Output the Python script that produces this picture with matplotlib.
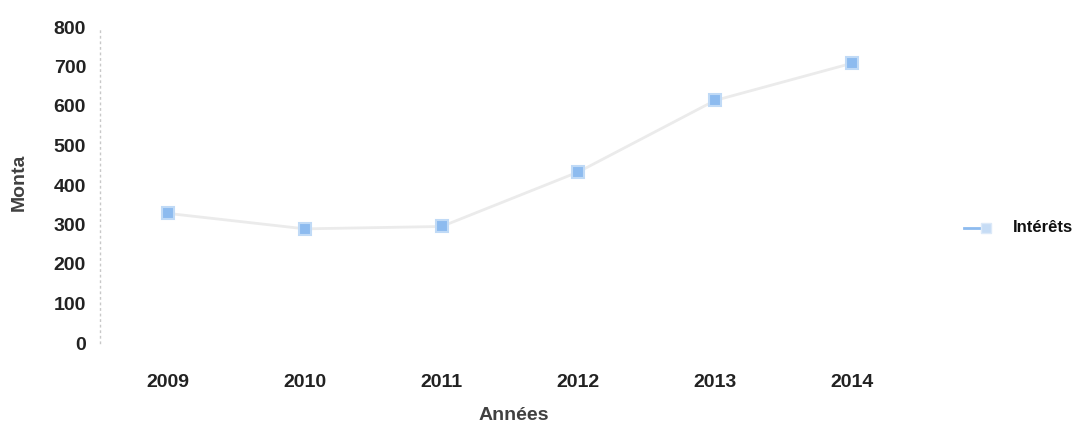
import matplotlib
matplotlib.use("Agg")
import matplotlib.pyplot as plt
from matplotlib.lines import Line2D

# Data
years = ["2009", "2010", "2011", "2012", "2013", "2014"]
interets = [328, 289, 295, 433, 614, 708]
y_ticks = [0, 100, 200, 300, 400, 500, 600, 700, 800]
series_name = "Intérêts"

plt.rcParams["font.family"] = ["Liberation Sans", "DejaVu Sans"]

fig = plt.figure(figsize=(10.8, 4.25), dpi=100)
ax = fig.add_axes([100 / 1080, (425 - 343) / 425, 820 / 1080, 316 / 425])

x = list(range(len(years)))
ax.plot(x, interets, color="#ebebeb", linewidth=2, zorder=1)
ax.plot(x, interets, linestyle="none", marker="s", markersize=8,
        markerfacecolor="#8dbbef", markeredgecolor="#c0daf6",
        markeredgewidth=1.5, zorder=2)

ax.set_xlim(-0.5, 5.5)
ax.set_ylim(0, 800)
ax.set_yticks(y_ticks)
ax.set_yticklabels([str(v) for v in y_ticks], fontsize=14, fontweight="bold",
                   color="#222222")
ax.set_xticks(x)
ax.set_xticklabels(years, fontsize=14, fontweight="bold", color="#222222")
ax.tick_params(axis="both", length=0)
ax.tick_params(axis="x", pad=22)
ax.tick_params(axis="y", pad=10)

for side in ["top", "right", "bottom"]:
    ax.spines[side].set_visible(False)
ax.spines["left"].set_color("#c8c8c8")
ax.spines["left"].set_linestyle((0, (1, 3)))
ax.spines["left"].set_linewidth(1)

fig.text(514 / 1080, 1 - 415 / 425, "Années", fontsize=14, fontweight="bold",
         color="#404040", ha="center", va="center")
fig.text(19 / 1080, 1 - 182 / 425, "Monta", fontsize=14, fontweight="bold",
         color="#404040", ha="center", va="center", rotation=90)

# Legend key drawn in figure coordinates
ly = 1 - 228 / 425
fig.add_artist(Line2D([964 / 1080, 990 / 1080], [ly, ly], color="#8dbbef",
                      linewidth=2, transform=fig.transFigure))
fig.add_artist(Line2D([986 / 1080], [ly], marker="s", markersize=7,
                      markerfacecolor="#c6dcf5", markeredgecolor="#dce9f8",
                      linestyle="none", transform=fig.transFigure))
fig.text(1013 / 1080, ly, series_name, fontsize=12, fontweight="bold",
         color="#111111", ha="left", va="center")

fig.savefig("out.png", dpi=100, facecolor="white")
